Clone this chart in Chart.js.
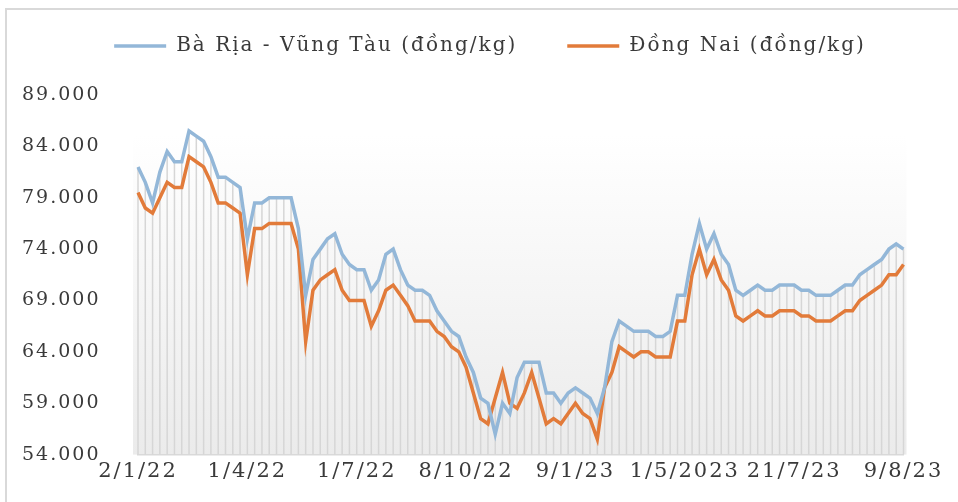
<!DOCTYPE html>
<html><head><meta charset="utf-8">
<script src="https://cdn.jsdelivr.net/npm/chart.js@4.4.0/dist/chart.umd.min.js"></script>
<style>
html,body{margin:0;padding:0;background:#fff;overflow:hidden;}
#wrap{position:relative;width:958px;height:502px;overflow:hidden;}
#frame{position:absolute;left:5px;top:8px;width:1000px;height:1000px;border:2px solid #d9d9d9;box-sizing:border-box;pointer-events:none;}
canvas{position:absolute;left:0;top:0;}
</style></head><body>
<div id="wrap"><canvas id="c" width="958" height="502"></canvas><div id="frame"></div></div>
<script>
const tickLabels = ['2/1/22','1/4/22','1/7/22','8/10/22','9/1/23','1/5/2023','21/7/23','9/8/23'];
const tickEvery = 15;
const seriesNames = ['Bà Rịa - Vũng Tàu (đồng/kg)', 'Đồng Nai (đồng/kg)'];
const blueValues = [
  82000, 80500, 78500, 81500, 83500, 82500, 82500, 85500, 85000, 84500,
  83000, 81000, 81000, 80500, 80000, 75000, 78500, 78500, 79000, 79000,
  79000, 79000, 76000, 69500, 73000, 74000, 75000, 75500, 73500, 72500,
  72000, 72000, 70000, 71000, 73500, 74000, 72000, 70500, 70000, 70000,
  69500, 68000, 67000, 66000, 65500, 63500, 62000, 59500, 59000, 56000,
  59000, 58000, 61500, 63000, 63000, 63000, 60000, 60000, 59000, 60000,
  60500, 60000, 59500, 58000, 60500, 65000, 67000, 66500, 66000, 66000,
  66000, 65500, 65500, 66000, 69500, 69500, 73500, 76500, 74000, 75500,
  73500, 72500, 70000, 69500, 70000, 70500, 70000, 70000, 70500, 70500,
  70500, 70000, 70000, 69500, 69500, 69500, 70000, 70500, 70500, 71500,
  72000, 72500, 73000, 74000, 74500, 74000
];
const orangeValues = [
  79500, 78000, 77500, 79000, 80500, 80000, 80000, 83000, 82500, 82000,
  80500, 78500, 78500, 78000, 77500, 71500, 76000, 76000, 76500, 76500,
  76500, 76500, 74000, 65000, 70000, 71000, 71500, 72000, 70000, 69000,
  69000, 69000, 66500, 68000, 70000, 70500, 69500, 68500, 67000, 67000,
  67000, 66000, 65500, 64500, 64000, 62500, 60000, 57500, 57000, 59500,
  62000, 59000, 58500, 60000, 62000, 59500, 57000, 57500, 57000, 58000,
  59000, 58000, 57500, 55500, 60500, 62000, 64500, 64000, 63500, 64000,
  64000, 63500, 63500, 63500, 67000, 67000, 71500, 74000, 71500, 73000,
  71000, 70000, 67500, 67000, 67500, 68000, 67500, 67500, 68000, 68000,
  68000, 67500, 67500, 67000, 67000, 67000, 67500, 68000, 68000, 69000,
  69500, 70000, 70500, 71500, 71500, 72500
];
const yMin = 54000, yMax = 89000, yStep = 5000;

const categories = blueValues.map((_, i) => i % tickEvery === 0 ? tickLabels[i / tickEvery] : '');
const fmt = v => String(v).replace(/\B(?=(\d{3})+(?!\d))/g, '.');

const spacingPlugin = {
  id: 'spacing',
  beforeUpdate(chart) { chart.ctx.letterSpacing = '2px'; },
  beforeDraw(chart) { chart.ctx.letterSpacing = '2px'; },
  afterLayout(chart) { const lg = chart.legend; lg.top -= 29; lg.bottom -= 29; }
};
const bgPlugin = {
  id: 'bg',
  beforeDraw(chart) {
    const {ctx, chartArea: a} = chart;
    const top = a.top + 40;
    const g = ctx.createLinearGradient(0, top, 0, a.bottom);
    g.addColorStop(0, '#ffffff');
    g.addColorStop(1, '#ebebeb');
    ctx.save();
    ctx.fillStyle = g;
    ctx.fillRect(a.left - 5, top, a.right - a.left + 8, a.bottom - top);
    ctx.restore();
  }
};
const dropPlugin = {
  id: 'drop',
  beforeDatasetsDraw(chart) {
    const {ctx, chartArea: a} = chart;
    const m0 = chart.getDatasetMeta(0).data, m1 = chart.getDatasetMeta(1).data;
    ctx.save();
    ctx.strokeStyle = '#d6d6d6';
    ctx.lineWidth = 1.5;
    ctx.beginPath();
    for (let i = 0; i < m0.length; i++) {
      const x = m0[i].x, y = Math.min(m0[i].y, m1[i].y);
      ctx.moveTo(x, y); ctx.lineTo(x, a.bottom);
    }
    ctx.stroke();
    ctx.restore();
  }
};

new Chart(document.getElementById('c'), {
  type: 'line',
  data: {
    labels: categories,
    datasets: [
      { label: seriesNames[0], data: blueValues, borderColor: '#93b7d8', backgroundColor: '#93b7d8', borderWidth: 3.5, pointRadius: 0, tension: 0 },
      { label: seriesNames[1], data: orangeValues, borderColor: '#e27b3a', backgroundColor: '#e27b3a', borderWidth: 3.5, pointRadius: 0, tension: 0 }
    ]
  },
  options: {
    responsive: false,
    animation: false,
    events: [],
    layout: { padding: { left: 22, right: 0, top: 15, bottom: -4 } },
    plugins: {
      tooltip: { enabled: false },
      legend: {
        position: 'top',
        labels: {
          usePointStyle: true, pointStyle: 'line', pointStyleWidth: 52, boxHeight: 20,
          padding: 50, color: '#3a3a3a',
          font: { family: 'DejaVu Serif', size: 20 }
        }
      }
    },
    scales: {
      x: {
        type: 'category',
        grid: { display: false, drawTicks: false, tickLength: 0 },
        border: { display: true, color: '#d9d9d9', width: 1.5 },
        afterFit: s => { s.paddingRight = 54.5; },
        ticks: {
          autoSkip: false, maxRotation: 0, padding: 4, color: '#3a3a3a',
          font: { family: 'DejaVu Serif', size: 21 },
          callback: (v, i) => categories[i] === '' ? null : categories[i]
        }
      },
      y: {
        min: yMin, max: yMax,
        afterFit: s => { s.width = 116; },
        grid: { display: false, drawTicks: false, tickLength: 0 },
        border: { display: false },
        ticks: {
          stepSize: yStep, padding: 36, crossAlign: 'far', color: '#3a3a3a',
          font: { family: 'DejaVu Serif', size: 19 },
          callback: v => fmt(v)
        }
      }
    }
  },
  plugins: [spacingPlugin, bgPlugin, dropPlugin]
});
</script>
</body></html>
